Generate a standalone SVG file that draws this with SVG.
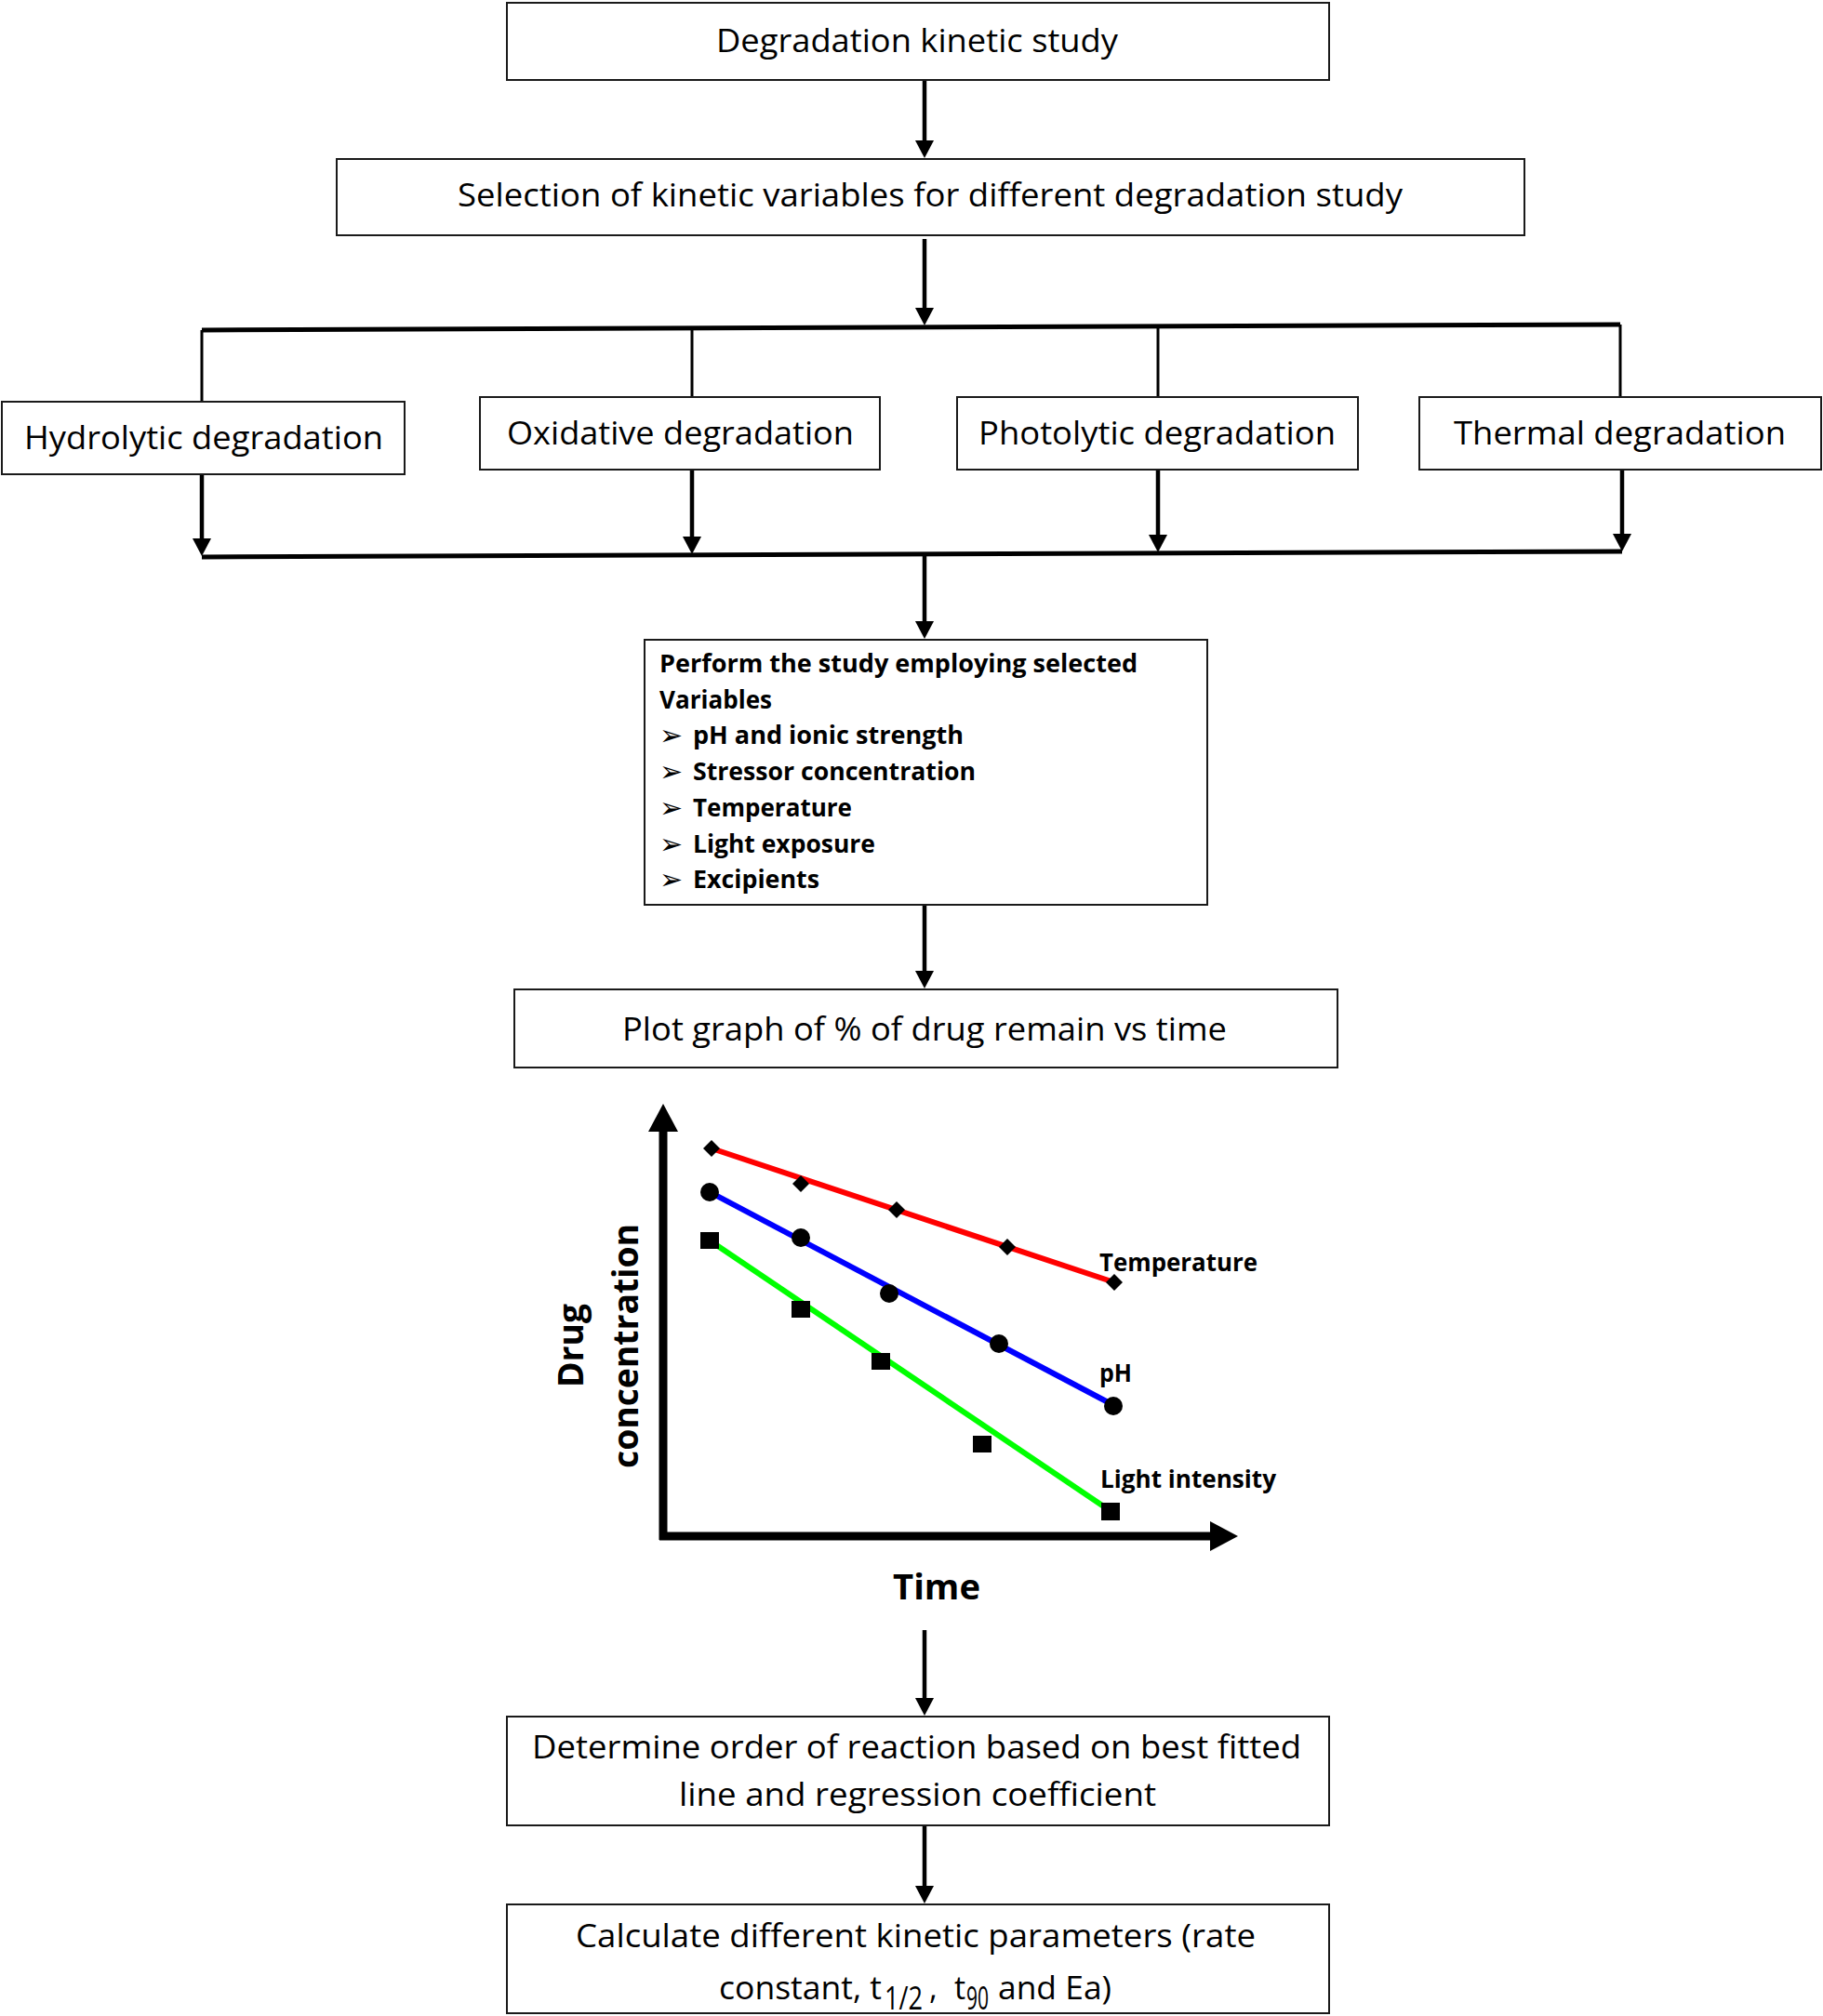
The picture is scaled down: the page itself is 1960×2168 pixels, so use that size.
<svg xmlns="http://www.w3.org/2000/svg" width="1960" height="2168" viewBox="0 0 1960 2168">
<style>
.box{fill:#fff;stroke:#1a1a1a;stroke-width:2}
.t{font-family:"Open Sans","Liberation Sans",sans-serif;font-size:34px;fill:#000}
.b{font-family:"Open Sans","Liberation Sans",sans-serif;font-weight:bold;font-size:26px;fill:#000}
.cl{font-family:"Open Sans","Liberation Sans",sans-serif;font-weight:bold;font-size:27px;fill:#000}
.ax{font-family:"Open Sans","Liberation Sans",sans-serif;font-weight:bold;font-size:37px;fill:#000}
.bul{font-family:"DejaVu Sans",sans-serif;font-size:30px;fill:#000}
.conn{stroke:#000;stroke-width:4.5;fill:none}
.stub{stroke:#000;stroke-width:3;fill:none}
.bar{stroke:#000;stroke-width:5;fill:none}
</style>

<g id="connectors">
<line class="conn" x1="994" y1="86" x2="994" y2="160"/>
<line class="conn" x1="994" y1="257" x2="994" y2="340"/>
<line class="bar" x1="217" y1="355" x2="1742" y2="349"/>
<line class="stub" x1="217" y1="355" x2="217" y2="432"/>
<line class="stub" x1="744" y1="353" x2="744" y2="427"/>
<line class="stub" x1="1245" y1="351" x2="1245" y2="427"/>
<line class="stub" x1="1742" y1="349" x2="1742" y2="427"/>
<line class="conn" x1="217" y1="510" x2="217" y2="588"/>
<line class="conn" x1="744" y1="505" x2="744" y2="586"/>
<line class="conn" x1="1245" y1="505" x2="1245" y2="585"/>
<line class="conn" x1="1744" y1="505" x2="1744" y2="583"/>
<line class="bar" x1="217" y1="599" x2="1744" y2="593"/>
<line class="conn" x1="994" y1="597" x2="994" y2="678"/>
<line class="conn" x1="994" y1="973" x2="994" y2="1054"/>
<line class="conn" x1="994" y1="1753" x2="994" y2="1836"/>
<line class="conn" x1="994" y1="1963" x2="994" y2="2038"/>
<g id="arrowheads" fill="#000">
<path d="M984,151 L1004,151 L994,170 Z"/>
<path d="M984,331 L1004,331 L994,350 Z"/>
<path d="M207,579 L227,579 L217,598 Z"/>
<path d="M734,577 L754,577 L744,596 Z"/>
<path d="M1235,575 L1255,575 L1245,594 Z"/>
<path d="M1734,574 L1754,574 L1744,593 Z"/>
<path d="M984,668 L1004,668 L994,687 Z"/>
<path d="M984,1044 L1004,1044 L994,1063 Z"/>
<path d="M984,1826 L1004,1826 L994,1845 Z"/>
<path d="M984,2028 L1004,2028 L994,2047 Z"/>
</g>
</g>

<g id="n1"><rect class="box" x="545" y="3" width="884" height="83"/>
<text class="t" x="770" y="56" textLength="432" lengthAdjust="spacingAndGlyphs">Degradation kinetic study</text></g>

<g id="n2"><rect class="box" x="362" y="171" width="1277" height="82"/>
<text class="t" x="492" y="222" textLength="1016" lengthAdjust="spacingAndGlyphs">Selection of kinetic variables for different degradation study</text></g>

<g id="n3"><rect class="box" x="2" y="432" width="433" height="78"/>
<text class="t" x="26" y="483" textLength="386" lengthAdjust="spacingAndGlyphs">Hydrolytic degradation</text></g>

<g id="n4"><rect class="box" x="516" y="427" width="430" height="78"/>
<text class="t" x="545" y="478" textLength="373" lengthAdjust="spacingAndGlyphs">Oxidative degradation</text></g>

<g id="n5"><rect class="box" x="1029" y="427" width="431" height="78"/>
<text class="t" x="1052" y="478" textLength="384" lengthAdjust="spacingAndGlyphs">Photolytic degradation</text></g>

<g id="n6"><rect class="box" x="1526" y="427" width="432" height="78"/>
<text class="t" x="1563" y="478" textLength="357" lengthAdjust="spacingAndGlyphs">Thermal degradation</text></g>

<g id="n7"><rect class="box" x="693" y="688" width="605" height="285"/>
<text class="b" x="709" y="723" textLength="514" lengthAdjust="spacingAndGlyphs">Perform the study employing selected</text>
<text class="b" x="709" y="762" textLength="121" lengthAdjust="spacingAndGlyphs">Variables</text>
<text class="bul" x="709" y="801">➢</text>
<text class="b" x="745" y="800" textLength="291" lengthAdjust="spacingAndGlyphs">pH and ionic strength</text>
<text class="bul" x="709" y="840">➢</text>
<text class="b" x="745" y="839" textLength="304" lengthAdjust="spacingAndGlyphs">Stressor concentration</text>
<text class="bul" x="709" y="879">➢</text>
<text class="b" x="745" y="878" textLength="171" lengthAdjust="spacingAndGlyphs">Temperature</text>
<text class="bul" x="709" y="918">➢</text>
<text class="b" x="745" y="917" textLength="196" lengthAdjust="spacingAndGlyphs">Light exposure</text>
<text class="bul" x="709" y="956">➢</text>
<text class="b" x="745" y="955" textLength="136" lengthAdjust="spacingAndGlyphs">Excipients</text></g>

<g id="n8"><rect class="box" x="553" y="1064" width="885" height="84"/>
<text class="t" x="669" y="1119" textLength="650" lengthAdjust="spacingAndGlyphs">Plot graph of % of drug remain vs time</text></g>

<g id="chart">
<line x1="713" y1="1656" x2="713" y2="1212" stroke="#000" stroke-width="9"/>
<path d="M713,1187 L697,1217 L729,1217 Z" fill="#000"/>
<line x1="709" y1="1652" x2="1304" y2="1652" stroke="#000" stroke-width="9"/>
<path d="M1331,1652 L1301,1636 L1301,1668 Z" fill="#000"/>
<line x1="765" y1="1235" x2="1198" y2="1379" stroke="#f00" stroke-width="6"/>
<line x1="763" y1="1282" x2="1197" y2="1511" stroke="#00f" stroke-width="6"/>
<line x1="763" y1="1334" x2="1194" y2="1625" stroke="#0f0" stroke-width="6"/>
<g fill="#000">
<path d="M765,1226 L774,1235 L765,1244 L756,1235 Z"/>
<path d="M861,1264 L870,1273 L861,1282 L852,1273 Z"/>
<path d="M964,1292 L973,1301 L964,1310 L955,1301 Z"/>
<path d="M1083,1332 L1092,1341 L1083,1350 L1074,1341 Z"/>
<path d="M1198,1370 L1207,1379 L1198,1388 L1189,1379 Z"/>
<circle cx="763" cy="1282" r="10"/>
<circle cx="861" cy="1331" r="10"/>
<circle cx="956" cy="1391" r="10"/>
<circle cx="1074" cy="1445" r="10"/>
<circle cx="1197" cy="1512" r="10"/>
<rect x="753" y="1325" width="20" height="18"/>
<rect x="851" y="1399" width="20" height="18"/>
<rect x="937" y="1455" width="20" height="18"/>
<rect x="1046" y="1544" width="20" height="18"/>
<rect x="1184" y="1616" width="20" height="19"/>
</g>
<text class="cl" x="1182" y="1367" textLength="170" lengthAdjust="spacingAndGlyphs">Temperature</text>
<text class="cl" x="1182" y="1486" textLength="35" lengthAdjust="spacingAndGlyphs">pH</text>
<text class="cl" x="1183" y="1600" textLength="189" lengthAdjust="spacingAndGlyphs">Light intensity</text>
<text class="ax" transform="translate(627,1447) rotate(-90)" x="-45" y="0" textLength="90" lengthAdjust="spacingAndGlyphs">Drug</text>
<text class="ax" transform="translate(686,1448) rotate(-90)" x="-131" y="0" textLength="263" lengthAdjust="spacingAndGlyphs">concentration</text>
<text class="ax" x="960" y="1720" textLength="94" lengthAdjust="spacingAndGlyphs">Time</text>
</g>

<g id="n9"><rect class="box" x="545" y="1846" width="884" height="117"/>
<text class="t" x="572" y="1891" textLength="827" lengthAdjust="spacingAndGlyphs">Determine order of reaction based on best fitted</text>
<text class="t" x="730" y="1942" textLength="513" lengthAdjust="spacingAndGlyphs">line and regression coefficient</text></g>

<g id="n10"><rect class="box" x="545" y="2048" width="884" height="117"/>
<text class="t" x="619" y="2094" textLength="731" lengthAdjust="spacingAndGlyphs">Calculate different kinetic parameters (rate</text>
<text class="t" x="773" y="2150" textLength="175" lengthAdjust="spacingAndGlyphs">constant, t</text>
<text class="t" x="951" y="2161" font-size="23" textLength="41" lengthAdjust="spacingAndGlyphs">1/2</text>
<text class="t" x="999" y="2150">,</text>
<text class="t" x="1026" y="2150">t</text>
<text class="t" x="1039" y="2161" font-size="23" textLength="24" lengthAdjust="spacingAndGlyphs">90</text>
<text class="t" x="1073" y="2150" textLength="122" lengthAdjust="spacingAndGlyphs">and Ea)</text></g>
</svg>
